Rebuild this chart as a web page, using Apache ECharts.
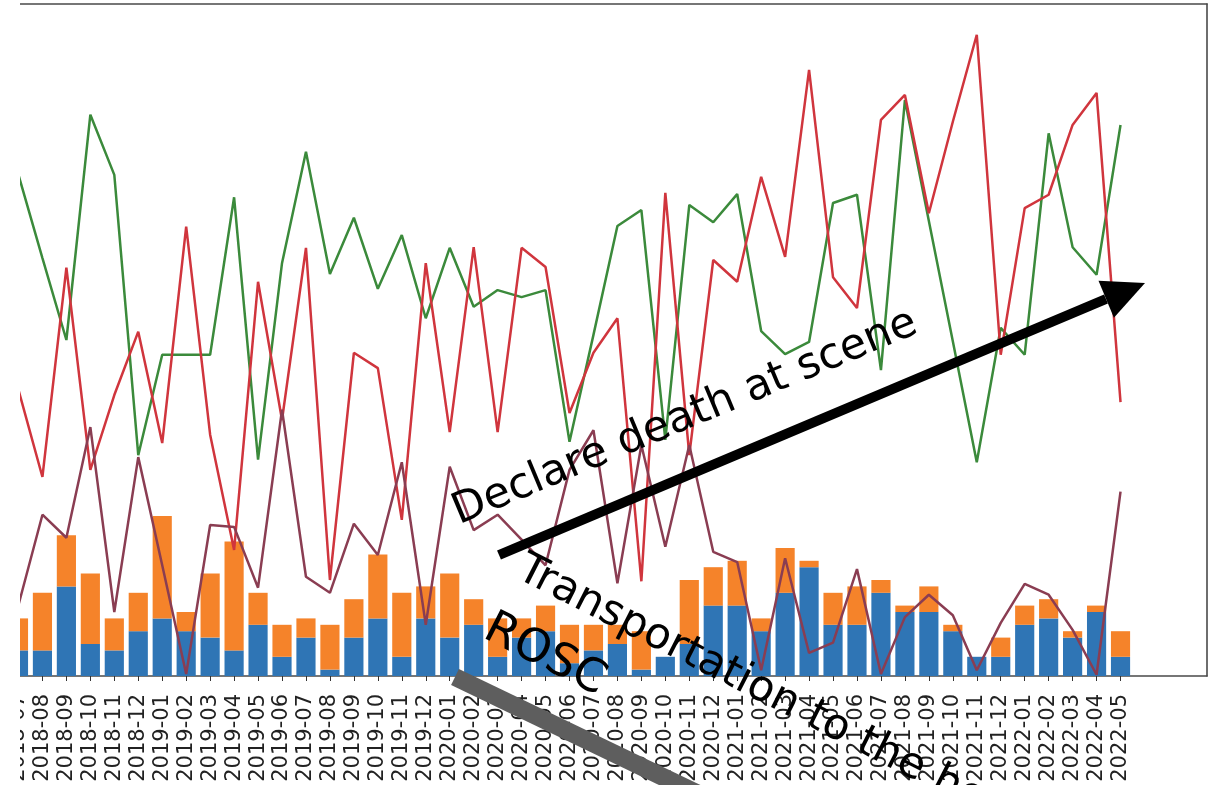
<!DOCTYPE html>
<html>
<head>
<meta charset="utf-8">
<script src="https://cdn.jsdelivr.net/npm/echarts@6/dist/echarts.min.js"></script>
<style>
  html, body { margin: 0; padding: 0; background: #ffffff; }
  #chart { width: 1213px; height: 785px; }
</style>
</head>
<body>
<div id="chart"></div>
<script>
// Monthly categories (tick labels)
const months = [
  '2018-07','2018-08','2018-09','2018-10','2018-11','2018-12',
  '2019-01','2019-02','2019-03','2019-04','2019-05','2019-06',
  '2019-07','2019-08','2019-09','2019-10','2019-11','2019-12',
  '2020-01','2020-02','2020-03','2020-04','2020-05','2020-06',
  '2020-07','2020-08','2020-09','2020-10','2020-11','2020-12',
  '2021-01','2021-02','2021-03','2021-04','2021-05','2021-06',
  '2021-07','2021-08','2021-09','2021-10','2021-11','2021-12',
  '2022-01','2022-02','2022-03','2022-04','2022-05'
];

// Stacked bars
const blueCounts = [4,4,14,5,4,7,9,7,6,4,8,3,6,1,6,9,3,9,6,8,3,6,7,2,4,5,1,3,5,11,11,7,13,17,8,8,13,10,10,7,3,3,8,9,6,10,3];
const orangeCounts = [5,9,8,11,5,6,16,3,10,17,5,5,3,7,6,10,10,5,10,4,6,3,4,6,4,3,6,0,10,6,7,2,7,1,5,6,2,1,4,1,0,3,3,3,1,1,4];

// Line series
const greenLine = [78.3,65.3,52.5,87.7,78.3,34.5,50.2,50.2,50.2,74.8,33.8,64.5,81.9,62.8,71.6,60.5,68.9,55.9,66.9,57.7,60.3,59.2,60.3,36.6,53.3,70.3,72.8,36.9,73.6,70.9,75.3,53.9,50.3,52.2,73.9,75.2,47.8,90.0,71.1,52.3,33.4,54.4,50.2,84.8,67.0,62.7,86.1];
const redLine = [44.7,31.1,63.8,32.2,43.9,53.8,36.4,70.2,37.7,19.7,61.6,40.0,66.9,15.0,50.5,48.1,24.4,64.5,38.1,67.0,38.1,66.9,63.9,41.1,50.5,55.9,14.8,75.5,34.5,65.0,61.6,78.0,65.5,94.7,62.3,57.5,86.9,90.8,72.3,86.6,100.2,50.2,73.1,75.2,86.1,91.1,42.8];
const brownLine = [11.1,25.2,21.6,38.9,10.0,34.2,17.3,0.3,23.6,23.3,13.8,41.6,15.5,13.0,23.8,18.9,33.4,8.0,32.7,22.8,25.2,21.3,17.3,32.2,38.4,14.5,36.1,20.2,36.1,19.4,17.8,0.9,18.4,3.6,5.2,16.7,0.3,9.2,12.7,9.5,0.9,8.3,14.4,12.7,7.2,0.2,28.8];

const FONT = '"DejaVu Sans", "Liberation Sans", sans-serif';

const chart = echarts.init(document.getElementById('chart'), null, { renderer: 'canvas' });

function lineSeries(name, data, color) {
  return {
    name: name, type: 'line', data: data,
    xAxisIndex: 0, yAxisIndex: 0,
    symbol: 'none', smooth: false,
    lineStyle: { color: color, width: 2.5 },
    itemStyle: { color: color },
    z: 3
  };
}

// frame axis: only its line is drawn
function frameAxis(extra) {
  return Object.assign({
    type: 'value', gridIndex: 1, min: 0, max: 1,
    axisLine: { show: true, onZero: false, lineStyle: { color: '#4a4a4a', width: 1.6 } },
    axisTick: { show: false }, axisLabel: { show: false }, splitLine: { show: false }
  }, extra);
}

chart.setOption({
  animation: false,
  backgroundColor: '#ffffff',
  grid: [
    { left: 6.5, top: 4, width: 1126, height: 672 },   // data area
    { left: 20, top: 4, width: 1187, height: 672 }     // frame
  ],
  xAxis: [
    {
      type: 'category', gridIndex: 0, data: months, boundaryGap: true,
      axisLine: { show: false },
      axisTick: { show: true, alignWithLabel: true, length: 5, lineStyle: { color: '#333', width: 1 } },
      axisLabel: { interval: 0, rotate: 90, fontSize: 21, fontFamily: FONT, color: '#222', margin: 18 },
      splitLine: { show: false }
    },
    frameAxis({ position: 'top' }),
    frameAxis({ position: 'bottom' })
  ],
  yAxis: [
    { type: 'value', gridIndex: 0, min: 0, max: 105, show: false },
    frameAxis({ position: 'right' })
  ],
  series: [
    { name: 'blue', type: 'bar', stack: 'total', data: blueCounts, barWidth: '80%',
      itemStyle: { color: '#2f75b5' }, z: 2 },
    { name: 'orange', type: 'bar', stack: 'total', data: orangeCounts, barWidth: '80%',
      itemStyle: { color: '#f5832a' }, z: 2 },
    lineSeries('green', greenLine, '#3b8a3b'),
    lineSeries('red', redLine, '#d0353d'),
    lineSeries('brown', brownLine, '#8a3d52')
  ],
  graphic: [
    // blank strip at the left edge
    { type: 'rect', shape: { x: 0, y: 0, width: 20, height: 785 }, style: { fill: '#ffffff' }, z: 50 },
    // black arrow
    { type: 'polyline', shape: { points: [[499, 555], [1106, 299]] },
      style: { stroke: '#000000', lineWidth: 10, fill: null }, z: 60 },
    { type: 'polygon', shape: { points: [[1145, 283], [1098.5, 280.7], [1113.9, 317.7]] },
      style: { fill: '#000000' }, z: 60 },
    { type: 'text', x: 685, y: 418, rotation: 0.396,
      style: { text: 'Declare death at scene', font: '43px ' + FONT, fill: '#000000',
               align: 'center', verticalAlign: 'middle', textAlign: 'center', textVerticalAlign: 'middle' }, z: 60 },
    // grey arrow shaft
    { type: 'polyline', shape: { points: [[455, 677], [765, 826]] },
      style: { stroke: '#5e5e5e', lineWidth: 18, fill: null }, z: 60 },
    { type: 'text', x: 520, y: 567, rotation: -0.47,
      style: { text: 'Transportation to the hospital', font: '43px ' + FONT, fill: '#000000',
               align: 'left', verticalAlign: 'middle', textAlign: 'left', textVerticalAlign: 'middle' }, z: 60 },
    { type: 'text', x: 487, y: 626, rotation: -0.47,
      style: { text: 'ROSC', font: '46px ' + FONT, fill: '#000000',
               align: 'left', verticalAlign: 'middle', textAlign: 'left', textVerticalAlign: 'middle' }, z: 60 }
  ]
});
</script>
</body>
</html>
